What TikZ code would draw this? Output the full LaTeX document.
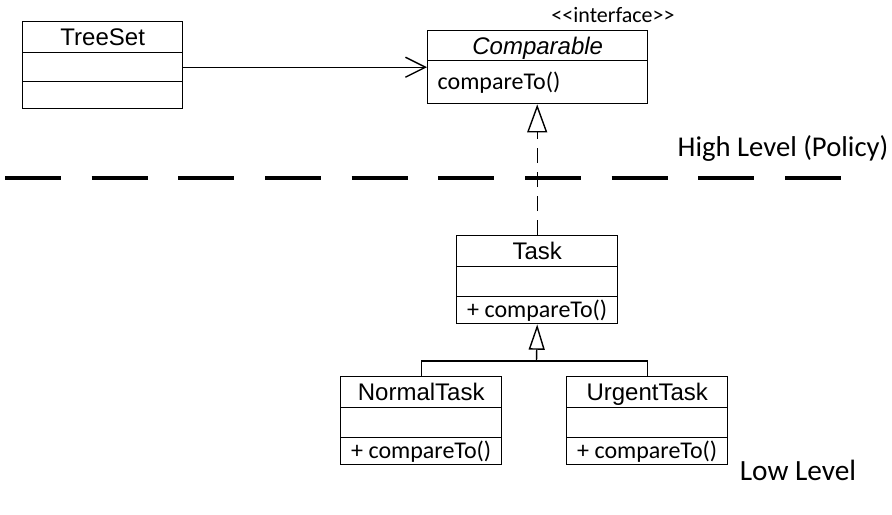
\documentclass[tikz,border=0pt]{standalone}
\usepackage{fontspec}
\setmainfont{Liberation Sans}
\newfontfamily\calfont{Carlito}
\usetikzlibrary{arrows.meta}

\tikzset{every picture/.style={line width=1.05pt}}
\tikzset{
  cname/.style={draw, inner sep=0pt, anchor=north west, minimum width=120.75pt, minimum height=23.25pt, text height=12.9pt, text depth=0pt, font=\fontsize{18}{20}\selectfont},
  cattr/.style={draw, inner sep=0pt, anchor=north west, minimum width=120.75pt, minimum height=22.5pt},
  cmeth/.style={draw, inner sep=0pt, anchor=north west, minimum width=120.75pt, minimum height=20.25pt, text height=11.6pt, text depth=0pt, font=\calfont\fontsize{18}{20}\selectfont},
  level/.style={font=\calfont\fontsize{21.5}{24}\selectfont},
  navig/.style={-{Straight Barb[length=15pt,width=15pt]}},
  realize/.style={dash pattern=on 11pt off 7pt, -{Triangle[open,length=21pt,width=15pt]}},
  general/.style={-{Triangle[open,length=19pt,width=12pt]}}
}

\begin{document}
\begin{tikzpicture}[x=0.75pt,y=0.75pt,yscale=-1,xscale=1]
\useasboundingbox (0,0) rectangle (892,514);

% TreeSet
\node [cname, minimum width=120pt] (treeset) at (22,21) {TreeSet};
\node [cattr, minimum width=120pt, minimum height=21.75pt] (treesetA) at (22,52) {};
\node [cattr, minimum width=120pt, minimum height=20.25pt] (treesetM) at (22,81) {};

% Comparable
\node [font=\calfont\fontsize{16.5}{18}\selectfont] (stereo) at (613,15) {<\kern0pt<interface>\kern0pt>};
\node [cname, minimum width=165pt, minimum height=22.5pt, font=\fontsize{18}{20}\selectfont\itshape] (comp) at (427,30) {Comparable};
\node [cmeth, minimum height=32.25pt, text width=150pt, inner xsep=7.5pt, align=left] (compM) at (427,60) {compareTo()};

% Task
\node [cname] (task) at (456,235) {Task};
\node [cattr] (taskA) at (456,266) {};
\node [cmeth] (taskM) at (456,296) {+ compareTo()};

% NormalTask
\node [cname] (normal) at (340,376) {NormalTask};
\node [cattr] (normalA) at (340,407) {};
\node [cmeth] (normalM) at (340,437) {+ compareTo()};

% UrgentTask
\node [cname] (urgent) at (566,376) {UrgentTask};
\node [cattr] (urgentA) at (566,407) {};
\node [cmeth] (urgentM) at (566,437) {+ compareTo()};

% levels
\draw [line width=3pt, dash pattern=on 42pt off 23pt] (5,178) -- (841,178);
\node [level] (high) at (783,148) {High Level (Policy)};
\node [level, font=\calfont\fontsize{22}{24}\selectfont] (low) at (798,470) {Low Level};

% connectors
\draw [navig] (treesetA.east) -- (treesetA.east -| comp.west);
\draw [realize] (task.north) -- (task.north |- compM.south);
\coordinate (fork) at (536.5,361);
\draw (normal.north) |- (fork) -| (urgent.north);
\draw [general] (fork) -- (taskM.south);

\end{tikzpicture}
\end{document}
